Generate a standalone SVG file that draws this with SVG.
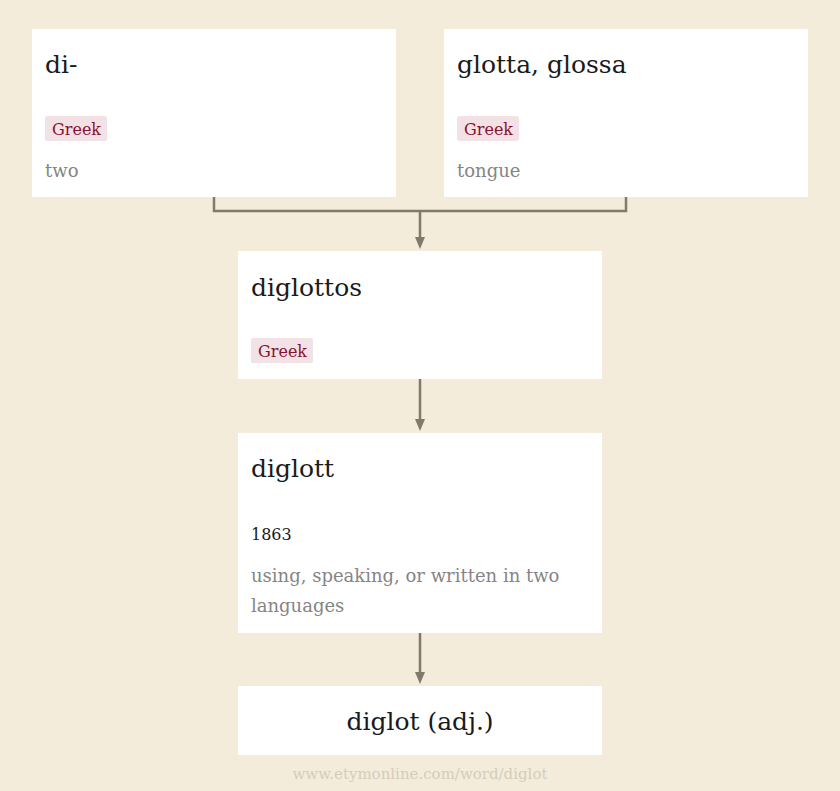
<svg xmlns="http://www.w3.org/2000/svg" width="840" height="791" viewBox="0 0 840 791">
<defs>
<style>
.box{fill:#ffffff}
.title{font-family:"DejaVu Serif","Liberation Serif",serif;font-size:25px;fill:#1a1a1a}
.tagbg{fill:#f3e2e5}
.tag{font-family:"DejaVu Serif","Liberation Serif",serif;font-size:16px;fill:#8a1030}
.desc{font-family:"DejaVu Serif","Liberation Serif",serif;font-size:18px;fill:#858585}
.year{font-family:"DejaVu Serif","Liberation Serif",serif;font-size:16px;fill:#1a1a1a}
.foot{font-family:"DejaVu Serif","Liberation Serif",serif;font-size:15px;fill:#d3ccbb}
.conn{fill:none;stroke:#7f7a6a;stroke-width:2.5}
</style>
<marker id="arrow" markerWidth="10" markerHeight="12" refX="5" refY="11" orient="auto" markerUnits="userSpaceOnUse" viewBox="0 0 10 12">
<path d="M0,0 L10,0 L5,12 Z" fill="#7f7a6a" transform="rotate(-90 5 6)"/>
</marker>
</defs>
<rect width="840" height="791" fill="#f3ecdb"/>
<g id="connectors">
<path class="conn" d="M214,197 V211 H626 V197"/>
<path class="conn" d="M420,211 V238"/>
<path d="M415,237 L425,237 L420,249 Z" fill="#7f7a6a"/>
<path class="conn" d="M420,379 V420"/>
<path d="M415,419 L425,419 L420,431 Z" fill="#7f7a6a"/>
<path class="conn" d="M420,633 V673"/>
<path d="M415,672 L425,672 L420,684 Z" fill="#7f7a6a"/>
</g>
<g id="node-di">
<rect class="box" x="32" y="29" width="364" height="168"/>
<text class="title" x="45" y="73">di-</text>
<rect class="tagbg" x="45" y="116" width="62" height="25" rx="2"/>
<text class="tag" x="52" y="135">Greek</text>
<text class="desc" x="45" y="177">two</text>
</g>
<g id="node-glotta">
<rect class="box" x="444" y="29" width="364" height="168"/>
<text class="title" x="457" y="73">glotta, glossa</text>
<rect class="tagbg" x="457" y="116" width="62" height="25" rx="2"/>
<text class="tag" x="464" y="135">Greek</text>
<text class="desc" x="457" y="177">tongue</text>
</g>
<g id="node-diglottos">
<rect class="box" x="238" y="251" width="364" height="128"/>
<text class="title" x="251" y="296">diglottos</text>
<rect class="tagbg" x="251" y="338" width="62" height="25" rx="2"/>
<text class="tag" x="258" y="357">Greek</text>
</g>
<g id="node-diglott">
<rect class="box" x="238" y="433" width="364" height="200"/>
<text class="title" x="251" y="477">diglott</text>
<text class="year" x="251" y="540">1863</text>
<text class="desc" x="251" y="582">using, speaking, or written in two</text>
<text class="desc" x="251" y="612">languages</text>
</g>
<g id="node-diglot">
<rect class="box" x="238" y="686" width="364" height="69"/>
<text class="title" x="420" y="730" text-anchor="middle">diglot (adj.)</text>
</g>
<text class="foot" x="420" y="779" text-anchor="middle">www.etymonline.com/word/diglot</text>
</svg>
